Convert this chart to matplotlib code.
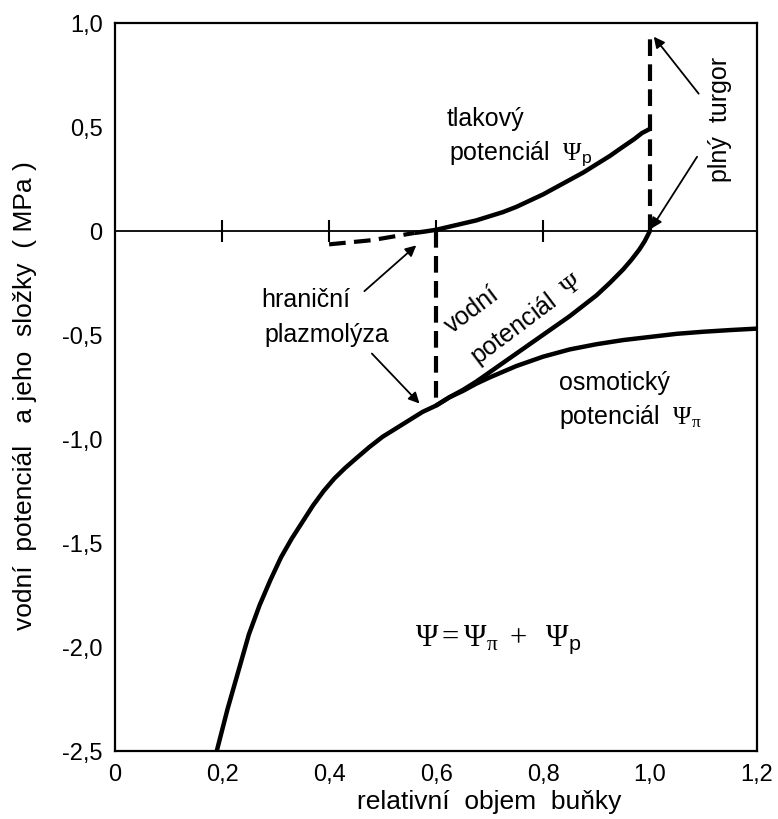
import matplotlib
matplotlib.use("Agg")
import matplotlib.pyplot as plt

plt.rcParams['font.family'] = ['Liberation Sans', 'DejaVu Sans']
plt.rcParams['mathtext.fontset'] = 'custom'
plt.rcParams['mathtext.rm'] = 'Liberation Serif'
plt.rcParams['mathtext.it'] = 'Liberation Serif:italic'
plt.rcParams['mathtext.sf'] = 'Liberation Sans'

# osmotický potenciál Psi_pi
osm_x = [0.19, 0.20, 0.21, 0.22, 0.23, 0.24, 0.25, 0.27, 0.29, 0.31, 0.33, 0.35, 0.37, 0.39,
         0.41, 0.43, 0.45, 0.475, 0.50, 0.525, 0.55, 0.575, 0.60, 0.625, 0.65, 0.675, 0.70,
         0.75, 0.80, 0.85, 0.90, 0.95, 1.00, 1.05, 1.10, 1.15, 1.20]
osm_y = [-2.50, -2.40, -2.30, -2.21, -2.12, -2.03, -1.94, -1.80, -1.68, -1.57, -1.48, -1.40, -1.32, -1.25,
         -1.19, -1.14, -1.095, -1.04, -0.99, -0.95, -0.91, -0.87, -0.84, -0.80, -0.77, -0.735, -0.705,
         -0.65, -0.605, -0.57, -0.545, -0.525, -0.51, -0.495, -0.485, -0.477, -0.47]

# vodní potenciál Psi
water_x = [0.60, 0.625, 0.65, 0.675, 0.70, 0.725, 0.75, 0.775, 0.80, 0.825, 0.85, 0.875,
           0.90, 0.925, 0.95, 0.965, 0.98, 0.99, 1.00]
water_y = [-0.84, -0.80, -0.765, -0.725, -0.68, -0.635, -0.59, -0.545, -0.50, -0.455, -0.41, -0.36,
           -0.31, -0.25, -0.185, -0.14, -0.09, -0.05, 0.0]

# tlakový potenciál Psi_p
press_x = [0.56, 0.58, 0.60, 0.625, 0.65, 0.675, 0.70, 0.725, 0.75, 0.775, 0.80, 0.825, 0.85,
           0.875, 0.90, 0.925, 0.95, 0.97, 0.985, 1.00]
press_y = [-0.01, -0.003, 0.005, 0.02, 0.035, 0.05, 0.07, 0.09, 0.115, 0.145, 0.175, 0.21, 0.245,
           0.28, 0.32, 0.36, 0.405, 0.44, 0.47, 0.49]

# čárkované části
press_neg_x = [0.40, 0.48, 0.56]
press_neg_y = [-0.065, -0.045, -0.01]
plasm_x = [0.60, 0.60]
plasm_y = [0.0, -0.83]
turgor_x = [1.00, 1.00]
turgor_y = [0.0, 0.94]

x_ticks = [0, 0.2, 0.4, 0.6, 0.8, 1.0, 1.2]
x_labels = ['0', '0,2', '0,4', '0,6', '0,8', '1,0', '1,2']
y_ticks = [1.0, 0.5, 0, -0.5, -1.0, -1.5, -2.0, -2.5]
y_labels = ['1,0', '0,5', '0', '-0,5', '-1,0', '-1,5', '-2,0', '-2,5']
zero_ticks = [0.2, 0.4, 0.6, 0.8]

fig = plt.figure(figsize=(7.78, 8.2), dpi=100)
ax = fig.add_axes([0.148, 0.083, 0.825, 0.888])

ax.set_xlim(0, 1.2)
ax.set_ylim(-2.5, 1.0)
for s in ax.spines.values():
    s.set_linewidth(1.6)

ax.set_xticks(x_ticks, x_labels)
ax.set_yticks(y_ticks, y_labels)
ax.tick_params(which='major', length=0, labelsize=17, pad=9)
ax.set_xticks([0.4, 0.6, 0.8, 1.0], minor=True)
ax.set_yticks([0.5, -0.5, -1.0, -1.5, -2.0], minor=True)
ax.tick_params(which='minor', direction='in', length=13, width=1.6)

ax.axhline(0, color='black', lw=1.3)
ax.plot(zero_ticks, [0] * len(zero_ticks), ls='none', marker='|', ms=16, mew=1.5, color='black')

lw = 3.2
ax.plot(osm_x, osm_y, color='black', lw=lw, solid_capstyle='butt')
ax.plot(water_x, water_y, color='black', lw=lw, solid_capstyle='butt')
ax.plot(press_x, press_y, color='black', lw=lw, solid_capstyle='butt')
dash = dict(color='black', lw=3, dashes=(4, 2))
ax.plot(press_neg_x, press_neg_y, **dash)
ax.plot(plasm_x, plasm_y, **dash)
ax.plot(turgor_x, turgor_y, **dash)

fs = 18
ax.text(0.62, 0.54, 'tlakový', fontsize=fs, va='center')
ax.text(0.625, 0.37, r'potenciál  $\Psi_{\mathsf{p}}$', fontsize=fs, va='center')
ax.text(1.13, 0.54, 'plný  turgor', fontsize=fs, rotation=90, ha='center', va='center')
ax.text(0.44, -0.33, 'hraniční', fontsize=fs, ha='right', va='center')
ax.text(0.513, -0.495, 'plazmolýza', fontsize=fs, ha='right', va='center')
ax.text(0.668, -0.375, 'vodní', fontsize=fs, rotation=37, ha='center', va='center', rotation_mode='anchor')
ax.text(0.77, -0.42, r'potenciál  $\Psi$', fontsize=fs, rotation=37, ha='center', va='center', rotation_mode='anchor')
ax.text(0.83, -0.726, 'osmotický', fontsize=fs, va='center')
ax.text(0.83, -0.89, r'potenciál  $\Psi_{\mathrm{\pi}}$', fontsize=fs, va='center')
ax.text(0.56, -1.96, r'$\Psi = \Psi_{\mathrm{\pi}}\ +\ \ \Psi_{\mathsf{p}}$', fontsize=22, va='center')

arrow = dict(arrowstyle='-|>', color='black', lw=1.3, mutation_scale=16, shrinkA=0, shrinkB=0)
ax.annotate('', xy=(1.007, 0.933), xytext=(1.091, 0.659), arrowprops=arrow)
ax.annotate('', xy=(1.002, 0.01), xytext=(1.088, 0.356), arrowprops=arrow)
ax.annotate('', xy=(0.563, -0.07), xytext=(0.466, -0.29), arrowprops=arrow)
ax.annotate('', xy=(0.569, -0.83), xytext=(0.48, -0.59), arrowprops=arrow)

ax.set_xlabel('relativní  objem  buňky', fontsize=19)
ax.xaxis.set_label_coords(0.583, -0.052)
ax.set_ylabel('vodní  potenciál   a jeho  složky  ( MPa )', fontsize=19)
ax.yaxis.set_label_coords(-0.122, 0.49)

fig.savefig('out.png', dpi=100)
